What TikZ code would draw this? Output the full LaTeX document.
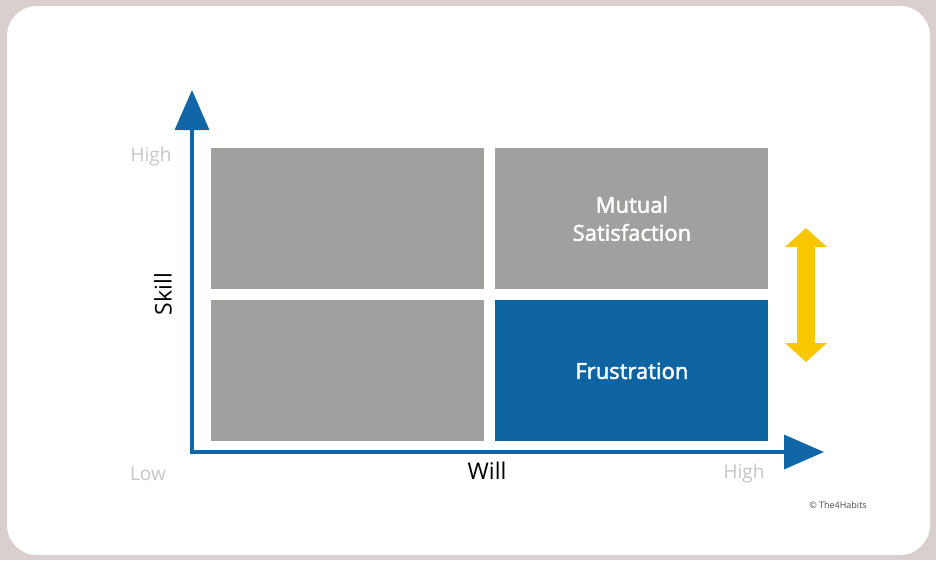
\documentclass[tikz,border=0pt]{standalone}
\usepackage{fontspec}
\setmainfont{Open Sans}
\newfontfamily\quadfont{Open Sans}[FakeBold=2.2]
\usetikzlibrary{positioning,arrows.meta}

\definecolor{framebg}{HTML}{D8CFCE}
\definecolor{quadgrey}{HTML}{A0A09F}
\definecolor{quadblue}{HTML}{0E64A1}
\definecolor{axisblue}{HTML}{1166A8}
\definecolor{hintgrey}{HTML}{C6C6C6}
\definecolor{markyellow}{HTML}{F8C700}

\tikzset{
  quad/.style={fill=quadgrey, minimum width=273pt, minimum height=141pt,
    inner sep=0pt, text=white, align=center,
    font=\quadfont\fontsize{22}{28}\selectfont},
  axis/.style={draw=axisblue, line width=3.5pt,
    -{Triangle[length=40pt,width=34pt]}},
  hint/.style={text=hintgrey, font=\fontsize{19}{22}\selectfont},
  axislabel/.style={text=black, font=\fontsize{23}{26}\selectfont},
  marker/.style={markyellow, line width=18pt,
    {Triangle[length=19pt,width=41pt]}-{Triangle[length=19pt,width=41pt]}}
}

\begin{document}
\begin{tikzpicture}[x=1pt,y=-1pt,node distance=11pt]

  % frame
  \fill[framebg] (0,0) rectangle (936,560);
  \fill[white, rounded corners=30pt] (7,6) rectangle (930,555);
  \useasboundingbox (0,0) rectangle (936,560);

  % quadrants
  \node[quad] (lowskill_lowwill) at (347.5,218.5) {};
  \node[quad] (mutual) [right=of lowskill_lowwill] {Mutual\\Satisfaction};
  \node[quad] (lowwill) [below=of lowskill_lowwill] {};
  \node[quad, fill=quadblue] (frustration) [below=of mutual] {Frustration};

  % axes
  \coordinate (origin) at (192,452);
  \coordinate (skilltip) at (192,90);
  \coordinate (willtip) at (824,452);
  \draw[axis] (origin) -- (skilltip);
  \draw[axis] ([xshift=-1.75pt]origin) -- (willtip);

  \node[hint] (skill_high) at (151,157) {High};
  \node[hint] (skill_low) at (148,474) {Low};
  \node[hint] (will_high) at (744,474) {High};
  \node[axislabel] (will) at (487,471) {Will};
  \node[axislabel, rotate=90] (skill) at (163,294) {Skill};

  % yellow marker
  \coordinate (mark_top) at (806,228);
  \coordinate (mark_bot) at (806,362);
  \draw[marker] (mark_top) -- (mark_bot);

  \node[text=black!70, font=\fontsize{9}{11}\selectfont] (credit) at (838,505)
    {\copyright\ The4Habits};

\end{tikzpicture}
\end{document}
